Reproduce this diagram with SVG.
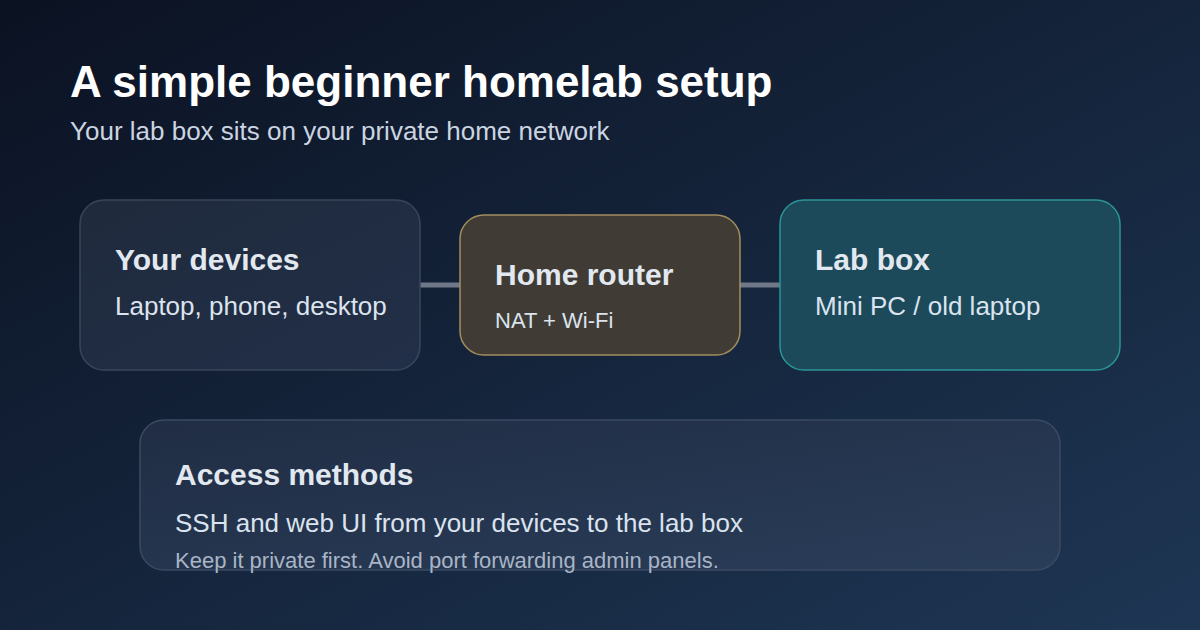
<svg xmlns="http://www.w3.org/2000/svg" width="1200" height="630" viewBox="0 0 1200 630">
<defs>
<linearGradient id="bg" x1="0" y1="0" x2="1" y2="1">
<stop offset="0" stop-color="#0b1222"/>
<stop offset="1" stop-color="#1e3654"/>
</linearGradient>
<linearGradient id="gDev" x1="0" y1="0" x2="1" y2="1">
<stop offset="0" stop-color="#1f2a3c"/>
<stop offset="1" stop-color="#222f48"/>
</linearGradient>
<linearGradient id="gAcc" x1="0" y1="0" x2="1" y2="1">
<stop offset="0" stop-color="#202d44"/>
<stop offset="1" stop-color="#2a3d59"/>
</linearGradient>
<style>
text{font-family:"Liberation Sans",Arial,sans-serif}
.h{font-weight:bold;font-size:30px;fill:#e2e8f0}
.b{font-size:26px;fill:#dbe3ee}
.s{font-size:22px;fill:#dbe3ee}
.n{font-size:22px;fill:#a9b5c6}
.conn{stroke:#6e7888;stroke-width:5}
</style>
</defs>
<rect width="1200" height="630" fill="url(#bg)"/>
<text x="70" y="97" font-size="44" font-weight="bold" fill="#ffffff">A simple beginner homelab setup</text>
<text x="70" y="140" font-size="26" fill="#cbd5e1">Your lab box sits on your private home network</text>
<g id="connectors">
<line class="conn" x1="420" y1="285" x2="460" y2="285"/>
<line class="conn" x1="740" y1="285" x2="780" y2="285"/>
</g>
<g id="devices">
<rect x="80" y="200" width="340" height="170" rx="24" fill="url(#gDev)" stroke="#3a4558" stroke-width="1.5"/>
<text class="h" x="115" y="270">Your devices</text>
<text class="b" x="115" y="315">Laptop, phone, desktop</text>
</g>
<g id="router">
<rect x="460" y="215" width="280" height="140" rx="24" fill="#403c35" stroke="#a28d5e" stroke-width="1.5"/>
<text class="h" x="495" y="285">Home router</text>
<text class="s" x="495" y="328">NAT + Wi-Fi</text>
</g>
<g id="labbox">
<rect x="780" y="200" width="340" height="170" rx="24" fill="#1c4a5b" stroke="#2b9496" stroke-width="1.5"/>
<text class="h" x="815" y="270">Lab box</text>
<text class="b" x="815" y="315">Mini PC / old laptop</text>
</g>
<g id="access">
<rect x="140" y="420" width="920" height="150" rx="24" fill="url(#gAcc)" stroke="#3b4a62" stroke-width="1.5"/>
<text class="h" x="175" y="485">Access methods</text>
<text class="b" x="175" y="532">SSH and web UI from your devices to the lab box</text>
<text class="n" x="175" y="568">Keep it private first. Avoid port forwarding admin panels.</text>
</g>
</svg>
